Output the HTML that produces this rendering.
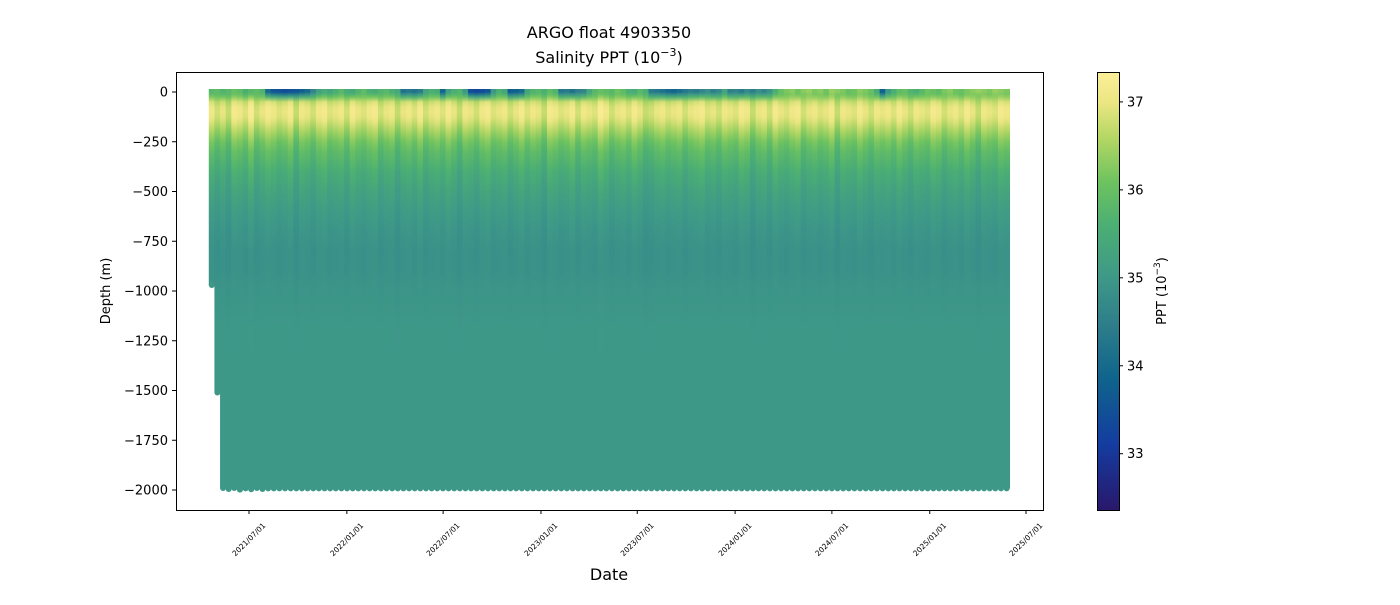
<!DOCTYPE html>
<html><head><meta charset="utf-8"><style>
body{margin:0;background:#fff;font-family:"Liberation Sans","DejaVu Sans",sans-serif}
svg text{font-family:"DejaVu Sans","Liberation Sans",sans-serif;fill:#000}
</style></head><body>
<svg id="chart" width="1400" height="600" xmlns="http://www.w3.org/2000/svg">
<defs id="defs"></defs>
<rect width="1400" height="600" fill="#fff"/>
<text x="609" y="38" font-size="16" text-anchor="middle">ARGO float 4903350</text>
<text x="609" y="63" font-size="16" text-anchor="middle">Salinity PPT (10<tspan dy="-7" font-size="11">−3</tspan><tspan dy="7">)</tspan></text>
<g id="plot"></g>
<g id="axes"></g>
<text transform="translate(110,291) rotate(-90)" font-size="13" text-anchor="middle">Depth (m)</text>
<text x="609" y="580" font-size="16" text-anchor="middle">Date</text>
<g id="cbar"></g>
<text transform="translate(1166,291) rotate(-90)" font-size="13" text-anchor="middle">PPT (10<tspan dy="-6" font-size="9">−3</tspan><tspan dy="6">)</tspan></text>
</svg>
<script>
const depthLevels=[0,10,25,50,75,100,125,150,200,250,300,400,500,600,700,800,900,1000,1200,1500,2000];
const meanSal=[35.8,36.0,36.35,36.75,36.95,37.0,36.95,36.8,36.45,36.1,35.85,35.5,35.25,35.07,34.93,34.86,34.86,34.93,35.0,35.0,35.0];
const anomWeight=[0.3,0.5,0.7,0.85,0.9,0.9,0.9,0.9,0.9,0.9,0.8,0.7,0.55,0.4,0.3,0.2,0.15,0.1,0.05,0.02,0];
const startDate="2021-04-22";
const profileStepDays=10.6;
const surfaceSal=[35.8,35.9,35.7,35.8,36.0,35.9,35.6,35.8,35.9,35.7,34.0,33.6,33.5,33.4,33.5,33.6,33.8,34.0,34.6,35.2,35.5,35.3,35.6,35.8,35.5,35.4,35.7,35.9,35.6,35.5,35.7,35.8,35.6,35.4,34.2,34.3,34.2,34.4,35.3,35.6,35.5,33.9,35.2,35.6,35.7,35.0,33.4,33.3,33.4,33.6,35.0,35.6,35.4,33.7,33.8,34.0,35.3,35.7,35.8,35.6,35.9,35.7,34.3,34.4,34.2,34.5,34.6,35.4,35.8,36.0,35.9,35.8,36.1,35.9,35.6,35.5,35.8,35.6,34.4,34.3,34.2,34.0,33.9,34.1,34.3,34.5,34.4,34.6,34.8,34.5,34.7,35.3,34.5,34.6,34.4,34.7,34.5,34.8,34.6,34.9,35.6,36.0,36.2,36.3,36.1,36.3,36.4,36.2,36.3,36.1,36.4,36.3,36.2,36.0,36.1,36.3,36.2,36.0,35.5,33.8,35.0,35.6,35.9,36.0,35.7,35.6,35.8,36.1,36.0,35.9,36.2,36.3,36.1,36.0,36.2,36.3,36.4,36.3,36.2,36.4,36.3,36.2];
const upperAnom=[0.1,-0.2,0.0,-0.3,0.2,0.1,-0.1,0.3,-0.2,0.0,0.2,0.1,-0.1,0.0,0.2,-0.3,0.1,0.0,-0.2,0.1,0.2,-0.1,0.0,0.1,-0.2,0.2,0.0,-0.1,0.1,0.2,-0.2,0.0,0.1,-0.3,0.0,0.1,-0.1,0.2,-0.2,0.0,0.1,-0.1,0.2,0.0,-0.3,0.1,0.0,-0.2,0.1,0.2,-0.1,0.0,0.1,-0.2,0.0,0.2,-0.1,0.1,0.0,-0.3,0.2,0.1,-0.1,0.0,0.2,-0.2,0.1,0.0,-0.1,0.3,0.1,-0.2,0.0,0.1,-0.1,0.2,0.0,-0.3,-0.2,0.0,0.1,-0.1,0.0,0.1,-0.2,0.0,0.1,0.2,-0.1,0.0,-0.2,0.1,0.0,-0.1,0.2,0.1,-0.3,0.0,0.1,-0.2,0.2,0.0,-0.1,0.1,0.2,-0.2,0.0,0.1,-0.1,0.0,0.2,-0.3,0.1,0.0,-0.1,0.2,0.0,-0.2,0.1,0.0,0.1,-0.1,0.2,0.0,-0.2,0.1,0.0,-0.1,0.2,0.1,-0.2,0.0,0.1,-0.1,0.2,0.0,-0.3,0.1,0.0,-0.1,0.2,0.1];
const maxDepth=[970,1510,1990,1995,1990,1998,1992,1996,1990,1995];
const defaultMaxDepth=1992;
const yTicks=[0,-250,-500,-750,-1000,-1250,-1500,-1750,-2000];
const xTickLabels=["2021/07/01","2022/01/01","2022/07/01","2023/01/01","2023/07/01","2024/01/01","2024/07/01","2025/01/01","2025/07/01"];
const cbTicks=[33,34,35,36,37];
const cbMin=32.36, cbMax=37.34;

const NS="http://www.w3.org/2000/svg";
const PL=176,PR=1043,PT=72,PB=510;
const day0=Date.UTC(2021,6,1), dayEnd=Date.UTC(2025,6,1);
function xScale(t){return 249+(t-day0)/(dayEnd-day0)*(1026-249);}
function yScale(d){return 92+(d/2000)*(490-92);}
const stops=[[0,[41,24,107]],[0.15,[20,60,160]],[0.3,[15,100,140]],[0.42,[45,125,138]],[0.53,[62,152,136]],[0.65,[75,175,115]],[0.75,[110,195,95]],[0.85,[180,215,100]],[0.93,[235,230,130]],[1,[253,238,153]]];
function cmap(v){let f=(v-cbMin)/(cbMax-cbMin);f=Math.max(0,Math.min(1,f));
 for(let i=1;i<stops.length;i++){if(f<=stops[i][0]){const a=stops[i-1],b=stops[i];const u=(f-a[0])/(b[0]-a[0]);
 return 'rgb('+a[1].map((c,k)=>Math.round(c+(b[1][k]-c)*u)).join(',')+')';}}return 'rgb(253,238,153)';}
function el(tag,attrs,parent){const e=document.createElementNS(NS,tag);for(const k in attrs)e.setAttribute(k,attrs[k]);parent.appendChild(e);return e;}
const defs=document.getElementById('defs'),plot=document.getElementById('plot'),axes=document.getElementById('axes'),cbar=document.getElementById('cbar');
const t0=Date.parse(startDate);
for(let i=0;i<surfaceSal.length;i++){
 const t=t0+i*profileStepDays*86400000;
 const x=xScale(t);
 const md=i<maxDepth.length?maxDepth[i]:defaultMaxDepth;
 const g=el('linearGradient',{id:'g'+i,gradientUnits:'userSpaceOnUse',x1:0,x2:0,y1:yScale(0),y2:yScale(2000)},defs);
 depthLevels.forEach((d,k)=>{
  let s=meanSal[k]+anomWeight[k]*upperAnom[i];
  if(k===0)s=surfaceSal[i];
  else if(k===1)s=0.7*surfaceSal[i]+0.3*s;
  else if(k===2)s=0.35*surfaceSal[i]+0.65*s;
  el('stop',{offset:d/2000,'stop-color':cmap(s)},g);
 });
 const r=el('rect',{x:x-3,y:yScale(0)-3,width:6.4,height:yScale(md)-yScale(0)+3,fill:'url(#g'+i+')'},plot);
 
 
 const c=el('circle',{cx:x,cy:yScale(md),r:3,fill:cmap(meanSal[meanSal.length-1])},plot);
 
 
}
el('rect',{x:PL+0.5,y:PT+0.5,width:PR-PL,height:PB-PT,fill:'none',stroke:'#000','stroke-width':1},axes);
yTicks.forEach(v=>{const y=yScale(-v);
 el('line',{x1:PL,x2:PL-4,y1:y,y2:y,stroke:'#000'},axes);
 const t=el('text',{x:PL-8,y:y+4.5,'font-size':13,'text-anchor':'end'},axes);t.textContent=(v<0?'−':'')+Math.abs(v);
 });
xTickLabels.forEach(lbl=>{const p=lbl.split('/');const x=xScale(Date.UTC(+p[0],+p[1]-1,+p[2]));
 el('line',{x1:x,x2:x,y1:PB,y2:PB+4,stroke:'#000'},axes);
 const t=el('text',{transform:'translate('+(x+17)+','+(PB+16)+') rotate(-45)','font-size':7.5,'text-anchor':'end'},axes);t.textContent=lbl;
 });
const CX=1097,CW=22;
for(let y=PT;y<PB;y++){const v=cbMax-(y-PT+0.5)/(PB-PT)*(cbMax-cbMin);
 el('rect',{x:CX,y:y,width:CW,height:1.2,fill:cmap(v)},cbar);}
el('rect',{x:CX+0.5,y:PT+0.5,width:CW,height:PB-PT,fill:'none',stroke:'#000'},cbar);
cbTicks.forEach(v=>{const y=PT+(cbMax-v)/(cbMax-cbMin)*(PB-PT);
 el('line',{x1:CX+CW,x2:CX+CW+4,y1:y,y2:y,stroke:'#000'},cbar);
 const t=el('text',{x:CX+CW+8,y:y+4.5,'font-size':13},cbar);t.textContent=v;
 });
</script>
</body></html>
